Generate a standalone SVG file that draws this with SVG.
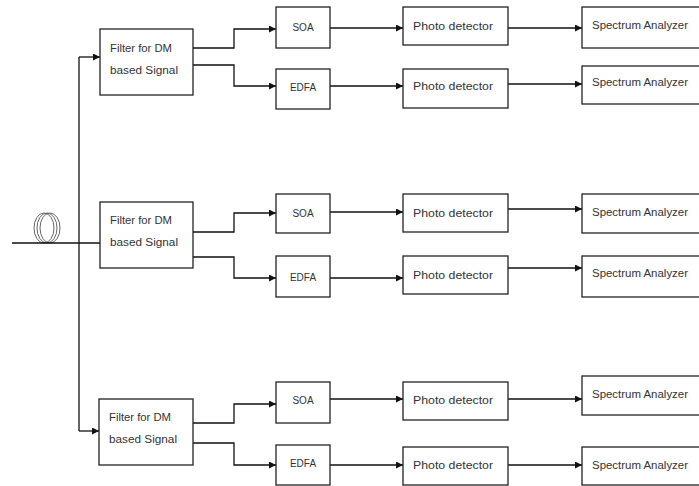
<svg xmlns="http://www.w3.org/2000/svg" width="699" height="486" viewBox="0 0 699 486">
<defs>
<style>
.box{fill:#fff;stroke:#222;stroke-width:1.3}
.ln{fill:none;stroke:#111;stroke-width:1.3}
.ar{marker-end:url(#ah)}
text{font-family:"Liberation Sans",Arial,sans-serif;font-size:10px;fill:#333}
.c{text-anchor:middle}
.coil{fill:none;stroke:#666;stroke-width:1}
</style>
<marker id="ah" markerUnits="userSpaceOnUse" markerWidth="8" markerHeight="7" refX="7" refY="3.5" orient="auto">
<path d="M0,0 L7,3.5 L0,7 z" fill="#111"/>
</marker>
</defs>
<rect width="699" height="486" fill="#fff"/>
<g id="fiber">
<ellipse class="coil" cx="44" cy="228" rx="10" ry="15"/>
<ellipse class="coil" cx="47" cy="228" rx="10" ry="15"/>
<ellipse class="coil" cx="50" cy="228" rx="10" ry="15"/>
</g>
<g id="connectors">
<path class="ln" d="M12,243 H100"/>
<path class="ln" d="M79,57 V431"/>
<path class="ln ar" d="M79,57 H100"/>
<path class="ln ar" d="M79,431 H99"/>
<path class="ln ar" d="M193,48 H234 V29 H276"/>
<path class="ln ar" d="M193,65 H234 V86 H276"/>
<path class="ln ar" d="M330,28 H403"/>
<path class="ln ar" d="M330,86 H403"/>
<path class="ln ar" d="M508,28 H582"/>
<path class="ln ar" d="M508,84 H582"/>
<path class="ln ar" d="M193,232 H234 V213 H276"/>
<path class="ln ar" d="M193,257 H234 V278 H276"/>
<path class="ln ar" d="M330,212 H403"/>
<path class="ln ar" d="M330,278 H403"/>
<path class="ln ar" d="M508,209 H582"/>
<path class="ln ar" d="M508,268 H582"/>
<path class="ln ar" d="M193,423 H234 V404 H276"/>
<path class="ln ar" d="M193,443 H234 V465 H276"/>
<path class="ln ar" d="M330,399 H403"/>
<path class="ln ar" d="M330,465 H403"/>
<path class="ln ar" d="M508,399 H582"/>
<path class="ln ar" d="M508,465 H582"/>
</g>
<g id="filter1"><rect class="box" x="100" y="29" width="93" height="66"/><text x="110" y="52" textLength="62" lengthAdjust="spacingAndGlyphs">Filter for DM</text><text x="110" y="74" textLength="68" lengthAdjust="spacingAndGlyphs">based Signal</text></g>
<g id="soa1"><rect class="box" x="276" y="7" width="54" height="41"/><text class="c" x="303" y="31">SOA</text></g>
<g id="edfa1"><rect class="box" x="276" y="69" width="54" height="40"/><text class="c" x="303" y="91">EDFA</text></g>
<g id="pd1"><rect class="box" x="403" y="7" width="105" height="38"/><text x="413" y="30" textLength="80" lengthAdjust="spacingAndGlyphs">Photo detector</text></g>
<g id="pd2"><rect class="box" x="403" y="69" width="105" height="39"/><text x="413" y="90" textLength="80" lengthAdjust="spacingAndGlyphs">Photo detector</text></g>
<g id="sa1"><rect class="box" x="582" y="7" width="130" height="41"/><text x="592" y="29" textLength="96" lengthAdjust="spacingAndGlyphs">Spectrum Analyzer</text></g>
<g id="sa2"><rect class="box" x="582" y="66" width="130" height="38"/><text x="592" y="86" textLength="96" lengthAdjust="spacingAndGlyphs">Spectrum Analyzer</text></g>

<g id="filter2"><rect class="box" x="100" y="202" width="93" height="66"/><text x="110" y="224" textLength="62" lengthAdjust="spacingAndGlyphs">Filter for DM</text><text x="110" y="246" textLength="68" lengthAdjust="spacingAndGlyphs">based Signal</text></g>
<g id="soa2"><rect class="box" x="276" y="194" width="54" height="39"/><text class="c" x="303" y="217">SOA</text></g>
<g id="edfa2"><rect class="box" x="276" y="256" width="54" height="41"/><text class="c" x="303" y="281">EDFA</text></g>
<g id="pd3"><rect class="box" x="403" y="194" width="105" height="38"/><text x="413" y="217" textLength="80" lengthAdjust="spacingAndGlyphs">Photo detector</text></g>
<g id="pd4"><rect class="box" x="403" y="256" width="105" height="38"/><text x="413" y="279" textLength="80" lengthAdjust="spacingAndGlyphs">Photo detector</text></g>
<g id="sa3"><rect class="box" x="582" y="194" width="130" height="39"/><text x="592" y="216" textLength="96" lengthAdjust="spacingAndGlyphs">Spectrum Analyzer</text></g>
<g id="sa4"><rect class="box" x="582" y="256" width="130" height="41"/><text x="592" y="277" textLength="96" lengthAdjust="spacingAndGlyphs">Spectrum Analyzer</text></g>

<g id="filter3"><rect class="box" x="99" y="399" width="94" height="66"/><text x="109" y="421" textLength="62" lengthAdjust="spacingAndGlyphs">Filter for DM</text><text x="109" y="443" textLength="68" lengthAdjust="spacingAndGlyphs">based Signal</text></g>
<g id="soa3"><rect class="box" x="276" y="382" width="54" height="41"/><text class="c" x="303" y="404">SOA</text></g>
<g id="edfa3"><rect class="box" x="276" y="445" width="54" height="40"/><text class="c" x="303" y="467">EDFA</text></g>
<g id="pd5"><rect class="box" x="403" y="382" width="105" height="38"/><text x="413" y="404" textLength="80" lengthAdjust="spacingAndGlyphs">Photo detector</text></g>
<g id="pd6"><rect class="box" x="403" y="447" width="105" height="38"/><text x="413" y="469" textLength="80" lengthAdjust="spacingAndGlyphs">Photo detector</text></g>
<g id="sa5"><rect class="box" x="582" y="376" width="130" height="39"/><text x="592" y="398" textLength="96" lengthAdjust="spacingAndGlyphs">Spectrum Analyzer</text></g>
<g id="sa6"><rect class="box" x="582" y="447" width="130" height="38"/><text x="592" y="469" textLength="96" lengthAdjust="spacingAndGlyphs">Spectrum Analyzer</text></g>
</svg>
